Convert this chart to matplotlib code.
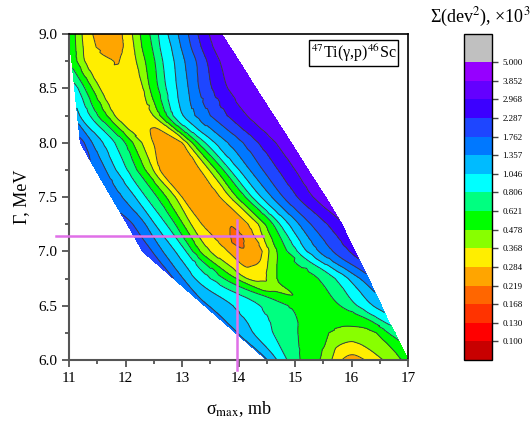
import numpy as np
import matplotlib
matplotlib.use("Agg")
import matplotlib.pyplot as plt
import matplotlib.tri as mtri
from matplotlib.colors import ListedColormap, BoundaryNorm
from matplotlib.cm import ScalarMappable
from matplotlib.ticker import MultipleLocator, FormatStrFormatter

plt.rcParams["font.family"] = ["Liberation Serif", "DejaVu Serif"]
plt.rcParams["mathtext.fontset"] = "stix"

# contour levels, sum of dev^2 in units of 10^3
levels = [0.100, 0.130, 0.168, 0.219, 0.284, 0.368, 0.478, 0.621,
          0.806, 1.046, 1.357, 1.762, 2.287, 2.968, 3.852, 5.000]
band_colors = ["#c80000", "#ff0000", "#ff3300", "#ff6600", "#ffa500",
               "#ffee00", "#88ff00", "#00ff00", "#00ff80", "#00ffff",
               "#00bbff", "#0078ff", "#1e46ff", "#3c00ff", "#6400ff",
               "#9600ff"]
over_color = "#c0c0c0"

# map read row by row: Gamma (MeV), sigma_max (mb), sum dev^2 (x10^3)
sig_900 = [11.00, 11.11, 11.23, 11.42, 11.67, 11.94, 12.12, 12.26, 12.43, 12.58,
           12.75, 12.93, 13.11, 13.28, 13.48, 13.70]
dev_900 = [0.589, 0.478, 0.368, 0.284, 0.249, 0.284, 0.368, 0.478, 0.621, 0.806,
           1.046, 1.357, 1.762, 2.287, 2.968, 3.752]
sig_888 = [11.02, 11.12, 11.25, 11.48, 11.73, 11.96, 12.15, 12.29, 12.47, 12.61,
           12.81, 12.98, 13.16, 13.34, 13.55, 13.85]
dev_888 = [0.574, 0.478, 0.368, 0.284, 0.237, 0.284, 0.368, 0.478, 0.621, 0.806,
           1.046, 1.357, 1.762, 2.287, 2.968, 3.780]
sig_875 = [11.05, 11.14, 11.28, 11.79, 11.84, 11.89, 12.19, 12.35, 12.52, 12.66,
           12.86, 13.05, 13.25, 13.44, 13.67, 14.01]
dev_875 = [0.574, 0.478, 0.368, 0.284, 0.279, 0.284, 0.368, 0.478, 0.621, 0.806,
           1.046, 1.357, 1.762, 2.287, 2.968, 3.802]
sig_850 = [11.10, 11.16, 11.28, 11.41, 11.55, 11.90, 12.31, 12.43, 12.58, 12.72,
           12.91, 13.11, 13.30, 13.53, 13.81, 14.31]
dev_850 = [0.872, 0.806, 0.621, 0.478, 0.368, 0.307, 0.368, 0.478, 0.621, 0.806,
           1.046, 1.357, 1.762, 2.287, 2.968, 3.802]
sig_825 = [11.15, 11.19, 11.37, 11.51, 11.67, 11.81, 12.17, 12.49, 12.61, 12.73,
           12.84, 13.02, 13.23, 13.50, 13.80, 14.15, 14.62]
dev_825 = [1.161, 1.046, 0.806, 0.621, 0.478, 0.368, 0.319, 0.368, 0.478, 0.621,
           0.806, 1.046, 1.357, 1.762, 2.287, 2.968, 3.802]
sig_800 = [11.20, 11.27, 11.41, 11.60, 11.81, 11.99, 12.13, 12.29, 12.49, 12.75,
           13.00, 13.09, 13.18, 13.28, 13.41, 13.58, 13.81, 14.08, 14.35, 14.66, 14.93]
dev_800 = [1.905, 1.762, 1.357, 1.046, 0.806, 0.621, 0.478, 0.368, 0.284, 0.243,
           0.284, 0.368, 0.478, 0.621, 0.806, 1.046, 1.357, 1.762, 2.287, 2.968, 3.752]
sig_775 = [11.47, 11.65, 11.83, 12.03, 12.20, 12.35, 12.49, 12.61, 12.96, 13.32,
           13.48, 13.60, 13.73, 13.85, 14.01, 14.20, 14.43, 14.70, 15.00, 15.23]
dev_775 = [1.672, 1.357, 1.046, 0.806, 0.621, 0.478, 0.368, 0.284, 0.237, 0.284,
           0.368, 0.478, 0.621, 0.806, 1.046, 1.357, 1.762, 2.287, 2.968, 3.656]
sig_750 = [11.75, 11.94, 12.17, 12.36, 12.56, 12.72, 12.88, 13.00, 13.32, 13.67,
           13.85, 13.97, 14.12, 14.24, 14.40, 14.59, 14.79, 15.04, 15.32, 15.54]
dev_750 = [1.587, 1.357, 1.046, 0.806, 0.621, 0.478, 0.368, 0.284, 0.231, 0.284,
           0.368, 0.478, 0.621, 0.806, 1.046, 1.357, 1.762, 2.287, 2.968, 3.470]
sig_725 = [12.03, 12.13, 12.35, 12.52, 12.72, 12.88, 13.02, 13.16, 13.35, 13.85,
           14.17, 14.35, 14.47, 14.61, 14.73, 14.89, 15.07, 15.28, 15.57, 15.83]
dev_725 = [1.905, 1.762, 1.357, 1.046, 0.806, 0.621, 0.478, 0.368, 0.284, 0.225,
           0.284, 0.368, 0.478, 0.621, 0.806, 1.046, 1.357, 1.762, 2.287, 2.891]
sig_715 = [12.14, 12.26, 12.47, 12.66, 12.86, 13.00, 13.14, 13.28, 13.53, 13.85,
           13.96, 14.06, 14.27, 14.42, 14.56, 14.72, 14.86, 15.02, 15.21, 15.44,
           15.73, 15.92]
dev_715 = [1.956, 1.762, 1.357, 1.046, 0.806, 0.621, 0.478, 0.368, 0.284, 0.219,
           0.191, 0.219, 0.284, 0.368, 0.478, 0.621, 0.806, 1.046, 1.357, 1.762,
           2.287, 2.745]
sig_700 = [12.30, 12.47, 12.66, 12.88, 13.07, 13.19, 13.32, 13.50, 13.81, 14.12,
           14.42, 14.54, 14.68, 14.86, 15.04, 15.21, 15.42, 15.67, 15.96, 16.06]
dev_700 = [2.007, 1.762, 1.357, 1.046, 0.806, 0.621, 0.478, 0.368, 0.284, 0.228,
           0.284, 0.368, 0.478, 0.621, 0.806, 1.046, 1.357, 1.762, 2.287, 2.538]
sig_675 = [12.85, 13.02, 13.23, 13.50, 13.74, 13.96, 14.15, 14.33, 14.49, 14.68,
           15.41, 15.71, 15.94, 16.15, 16.30]
dev_675 = [1.762, 1.357, 1.046, 0.806, 0.621, 0.478, 0.368, 0.350, 0.368, 0.478,
           0.621, 0.806, 1.046, 1.357, 1.629]
sig_650 = [13.40, 13.90, 14.38, 14.88, 15.35, 15.80, 16.10, 16.38, 16.53]
dev_650 = [1.430, 1.046, 0.806, 0.621, 0.531, 0.621, 0.806, 1.046, 1.161]
sig_635 = [13.73, 14.15, 14.56, 15.05, 15.97, 16.38, 16.58, 16.66]
dev_635 = [1.411, 1.046, 0.806, 0.621, 0.510, 0.621, 0.806, 0.872]
sig_625 = [13.95, 14.26, 14.61, 15.05, 15.60, 16.01, 16.44, 16.65, 16.77]
dev_625 = [1.393, 1.046, 0.806, 0.621, 0.478, 0.430, 0.478, 0.621, 0.689]
sig_600 = [14.50, 14.68, 14.86, 15.09, 15.44, 15.65, 15.83, 16.01, 16.24, 16.56,
           16.89, 17.00]
dev_600 = [1.375, 1.046, 0.806, 0.621, 0.478, 0.368, 0.284, 0.256, 0.284, 0.368,
           0.478, 0.517]

rows = [(9.00, sig_900, dev_900), (8.88, sig_888, dev_888), (8.75, sig_875, dev_875),
        (8.50, sig_850, dev_850), (8.25, sig_825, dev_825), (8.00, sig_800, dev_800),
        (7.75, sig_775, dev_775), (7.50, sig_750, dev_750), (7.25, sig_725, dev_725),
        (7.15, sig_715, dev_715), (7.00, sig_700, dev_700), (6.75, sig_675, dev_675),
        (6.50, sig_650, dev_650), (6.35, sig_635, dev_635), (6.25, sig_625, dev_625),
        (6.00, sig_600, dev_600)]

# best fit cross
cross_sigma = 13.97
cross_gamma = 7.14
cross_sig_span = [10.77, 14.43]
cross_gam_span = [5.91, 7.29]

# stitch neighbouring rows into triangles, pairing points on the same
# contour level and the same side of the valley
xs, ys, zs, tris = [], [], [], []
prev = None
for g, s, d in rows:
    idx = list(range(len(xs), len(xs) + len(s)))
    xs += s
    ys += [g] * len(s)
    zs += d
    lv = np.log10(d) - np.log10(0.15)
    k = int(np.argmin(lv))
    u = [-lv[i] if i < k else (0.0 if i == k else lv[i]) for i in range(len(s))]
    if prev is not None:
        a, ua = prev
        i = j = 0
        while i < len(a) - 1 or j < len(idx) - 1:
            if j == len(idx) - 1 or (i < len(a) - 1 and ua[i + 1] <= u[j + 1]):
                tris.append([a[i], a[i + 1], idx[j]])
                i += 1
            else:
                tris.append([a[i], idx[j + 1], idx[j]])
                j += 1
    prev = (idx, u)

tri = mtri.Triangulation(np.array(xs), np.array(ys), np.array(tris))
lz = np.log10(np.array(zs))
interp = mtri.CubicTriInterpolator(tri, lz, kind="geom")
fine_tri, fine_z = mtri.UniformTriRefiner(tri).refine_field(lz, subdiv=3, triinterpolator=interp)

# keep the smoothed surface inside the range of each original triangle
owner = tri.get_trifinder()(fine_tri.x, fine_tri.y)
ok = owner >= 0
corner = lz[tri.triangles[owner[ok]]]
fine_z = np.array(fine_z)
fine_z[ok] = np.clip(fine_z[ok], corner.min(axis=1), corner.max(axis=1))

bounds = [0.077] + levels

fig = plt.figure(figsize=(5.32, 4.23), dpi=100)
ax = fig.add_axes([69 / 532, 63 / 423, 339 / 532, 326 / 423])
ax.tricontourf(fine_tri, fine_z, levels=np.log10(bounds), colors=band_colors)
ax.tricontour(fine_tri, fine_z, levels=np.log10(levels[:-1]), colors="#3c3c3c",
              linewidths=0.7, linestyles="solid")

ax.plot(cross_sig_span, [cross_gamma, cross_gamma], color="#e070e8", lw=1.8, clip_on=False, zorder=5)
ax.plot([cross_sigma, cross_sigma], cross_gam_span, color="#e070e8", lw=1.8, clip_on=False, zorder=5)

ax.set_xlim(11, 17)
ax.set_ylim(6, 9)
ax.xaxis.set_major_locator(MultipleLocator(1))
ax.xaxis.set_minor_locator(MultipleLocator(0.5))
ax.yaxis.set_major_locator(MultipleLocator(0.5))
ax.yaxis.set_minor_locator(MultipleLocator(0.25))
ax.yaxis.set_major_formatter(FormatStrFormatter("%.1f"))
ax.tick_params(which="both", direction="out", color="#444444", width=1.2, labelsize=11)
ax.tick_params(which="major", length=5)
ax.tick_params(which="minor", length=3)
for side in ["left", "bottom"]:
    ax.spines[side].set_linewidth(1.5)
    ax.spines[side].set_color("#555555")
for side in ["top", "right"]:
    ax.spines[side].set_linewidth(1.2)
ax.set_xlabel("σ$_{\\mathrm{max}}$, mb", fontsize=13, labelpad=10)
ax.set_ylabel("Γ, MeV", fontsize=13, labelpad=6)

ax.text(0.966, 0.975, "$^{47}$Ti(γ,p)$^{46}$Sc", transform=ax.transAxes,
        ha="right", va="top", fontsize=11.5,
        bbox=dict(boxstyle="square,pad=0.12", fc="white", ec="black", lw=1))

cax = fig.add_axes([464 / 532, 63 / 423, 28 / 532, 326 / 423])
cmap = ListedColormap(band_colors)
cmap.set_over(over_color)
norm = BoundaryNorm(bounds, cmap.N)
sm = ScalarMappable(norm=norm, cmap=cmap)
cb = fig.colorbar(sm, cax=cax, extend="max", extendrect=True, extendfrac=0.094,
                  spacing="uniform", ticks=levels)
cb.ax.yaxis.set_major_formatter(FormatStrFormatter("%.3f"))
cb.ax.tick_params(labelsize=6.5, length=4, width=1, color="#444444")
cb.ax.minorticks_off()
cb.outline.set_linewidth(1)
fig.text(430 / 532, 1 - 22 / 423, "Σ(dev$^2$), ×10$^3$", fontsize=13, va="baseline")

fig.savefig("out.png", dpi=100)
